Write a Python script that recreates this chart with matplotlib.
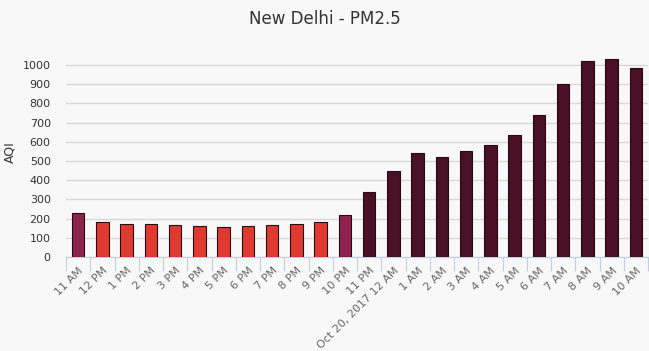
import numpy as np
import matplotlib
matplotlib.use("Agg")
import matplotlib.pyplot as plt

# hourly PM2.5 AQI readings
hours = ['11 AM', '12 PM', '1 PM', '2 PM', '3 PM', '4 PM', '5 PM', '6 PM',
         '7 PM', '8 PM', '9 PM', '10 PM', '11 PM', 'Oct 20, 2017 12 AM',
         '1 AM', '2 AM', '3 AM', '4 AM', '5 AM', '6 AM', '7 AM', '8 AM',
         '9 AM', '10 AM']
aqi = [228, 181, 170, 170, 165, 160, 155, 160, 165, 170, 181, 217,
       337, 446, 540, 519, 550, 582, 634, 738, 899, 1019, 1030, 983]
colors = ['#8e2350'] + ['#e0392f'] * 10 + ['#8e2350'] + ['#4a1026'] * 12

bg = '#f8f8f9'
fig = plt.figure(figsize=(6.49, 3.51), dpi=100, facecolor=bg)
ax = fig.add_axes([0.1017, 0.2678, 0.8968, 0.5742], facecolor=bg)

x = np.arange(len(hours))
ax.bar(x, aqi, width=0.52, color=colors, edgecolor='#2a0a12', linewidth=0.8, zorder=3)

ax.set_xlim(-0.5, len(hours) - 0.5)
ax.set_ylim(0, 1050)
ax.set_yticks(np.arange(0, 1001, 100))
ax.yaxis.grid(True, color='#d8d8d8', linewidth=1, zorder=0)
ax.tick_params(axis='y', length=0, labelsize=8, labelcolor='#333333', pad=11)

# ticks sit between categories, labels at the centre
ax.set_xticks(np.arange(-0.5, len(hours)), minor=False)
ax.set_xticklabels([])
ax.set_xticks(x, minor=True)
ax.set_xticklabels(hours, minor=True, rotation=45, ha='right',
                   rotation_mode='anchor', fontsize=8, color='#666666')
ax.tick_params(axis='x', which='major', length=10, color='#c0d0e0')
ax.tick_params(axis='x', which='minor', length=0, pad=6)

for s in ['top', 'right', 'left']:
    ax.spines[s].set_visible(False)
ax.spines['bottom'].set_color('#c0d0e0')

fig.text(10 / 649, 1 - 152 / 351, 'AQI', rotation=90, ha='center', va='center',
         fontsize=9, color='#333333')
fig.text(0.5, 0.945, 'New Delhi - PM2.5', ha='center', va='center',
         fontsize=12, color='#333333')

fig.savefig('out.png', dpi=100, facecolor=bg)
